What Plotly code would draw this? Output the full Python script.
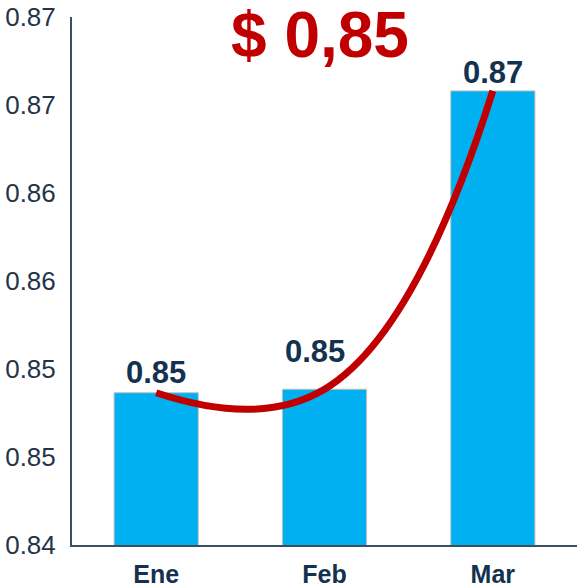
import plotly.graph_objects as go

# Data
months = ["Ene", "Feb", "Mar"]
values = [0.84865, 0.84885, 0.8658]
label_texts = ["0.85", "0.85", "0.87"]
headline = "$ 0,85"
y_tickvals = [0.84, 0.845, 0.85, 0.855, 0.86, 0.865, 0.87]
y_ticktext = ["0.84", "0.85", "0.85", "0.86", "0.86", "0.87", "0.87"]

# Label offsets (styling)
label_xshift = [0, -10, 0]
label_yshift = [20, 38, 18]

L, R, T, B = 72, 0, 17, 43
W, H = 577, 588

fig = go.Figure()
fig.add_trace(go.Bar(
    x=months, y=values,
    marker=dict(color="#00B0F0", line=dict(color="#BFBFBF", width=1)),
    width=0.5, hoverinfo="skip", showlegend=False,
))
fig.add_trace(go.Scatter(
    x=months, y=values, mode="lines",
    line=dict(color="#C00000", width=7, shape="spline", smoothing=1.3),
    hoverinfo="skip", showlegend=False,
))

for m, v, t, xs, ys in zip(months, values, label_texts, label_xshift, label_yshift):
    fig.add_annotation(
        x=m, y=v, text=t, showarrow=False, xref="x", yref="y",
        xanchor="center", yanchor="middle", xshift=xs, yshift=ys,
        font=dict(family="Liberation Sans, Arial", size=31, color="#14324F", weight="bold"),
    )

fig.add_annotation(
    x=(320 - L) / (W - L - R), y=1 + (T - 35) / (H - T - B),
    xref="paper", yref="paper", text="<b>" + headline + "</b>", showarrow=False,
    xanchor="center", yanchor="middle",
    font=dict(family="Liberation Sans, Arial", size=64, color="#C00000"),
)

fig.update_layout(
    width=W, height=H,
    margin=dict(l=L, r=R, t=T, b=B, autoexpand=False),
    plot_bgcolor="white", paper_bgcolor="white",
    bargap=0.5,
    font=dict(family="Liberation Sans, Arial"),
)
fig.update_xaxes(
    showgrid=False, showline=True, linecolor="#3D4F5F", linewidth=2,
    ticks="", ticklabelstandoff=6, automargin=False,
    tickfont=dict(family="Liberation Sans, Arial", size=25, color="#14324F", weight="bold"),
)
fig.update_yaxes(
    range=[0.84, 0.87], showgrid=False, zeroline=False,
    showline=True, linecolor="#3D4F5F", linewidth=2, automargin=False,
    tickvals=y_tickvals, ticktext=y_ticktext, ticks="", ticklabelstandoff=9,
    tickfont=dict(family="Liberation Sans, Arial", size=26, color="#243447"),
)

fig.write_html(
    "out.html",
    config={"displayModeBar": False, "staticPlot": True},
    post_script="document.body.style.margin='0';document.body.style.overflow='hidden';",
)
